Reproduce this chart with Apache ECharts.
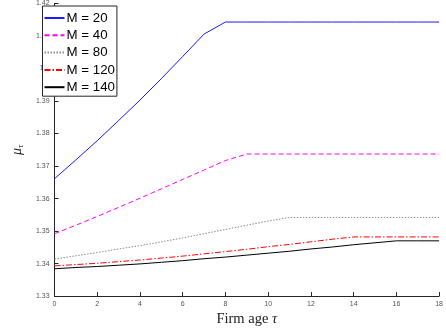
<!DOCTYPE html>
<html>
<head>
<meta charset="utf-8">
<script src="https://cdn.jsdelivr.net/npm/echarts@6/dist/echarts.min.js"></script>
<style>
  html, body { margin: 0; padding: 0; background: #fff; }
  #chart { width: 446px; height: 332px; }
</style>
</head>
<body>
<div id="chart"></div>
<script>
// Firm age (years)
const ages = [0, 1, 2, 3, 4, 5, 6, 7, 8, 9, 10, 11, 12, 13, 14, 15, 16, 17, 18];

// Markup profile mu_tau for each value of M
const muM20  = [1.3661, 1.3719, 1.3778, 1.3840, 1.3903, 1.3969, 1.4037, 1.4106, 1.4143, 1.4143, 1.4143, 1.4143, 1.4143, 1.4143, 1.4143, 1.4143, 1.4143, 1.4143, 1.4143];
const muM40  = [1.3492, 1.3518, 1.3545, 1.3573, 1.3601, 1.3630, 1.3659, 1.3688, 1.3717, 1.3737, 1.3737, 1.3737, 1.3737, 1.3737, 1.3737, 1.3737, 1.3737, 1.3737, 1.3737];
const muM80  = [1.3414, 1.3424, 1.3434, 1.3445, 1.3455, 1.3467, 1.3479, 1.3492, 1.3505, 1.3518, 1.3531, 1.3542, 1.3542, 1.3542, 1.3542, 1.3542, 1.3542, 1.3542, 1.3542];
const muM120 = [1.3393, 1.3397, 1.3401, 1.3406, 1.3411, 1.3417, 1.3423, 1.3430, 1.3437, 1.3444, 1.3452, 1.3459, 1.3467, 1.3475, 1.3482, 1.3482, 1.3482, 1.3482, 1.3482];
const muM140 = [1.3384, 1.3388, 1.3391, 1.3395, 1.3399, 1.3404, 1.3409, 1.3415, 1.3420, 1.3426, 1.3432, 1.3438, 1.3445, 1.3451, 1.3458, 1.3464, 1.3470, 1.3470, 1.3470];

const seriesNames = ['M = 20', 'M = 40', 'M = 80', 'M = 120', 'M = 140'];

const axisColor = '#262626';
const tickLabelStyle = { color: '#555', fontSize: 7, fontFamily: 'Liberation Sans, Arial, sans-serif' };

function pairs(ys) { return ys.map((y, i) => [ages[i], y]); }

function lineSeries(name, ys, color, type) {
  return {
    name: name,
    type: 'line',
    data: pairs(ys),
    symbol: 'none',
    showSymbol: false,
    silent: true,
    animation: false,
    lineStyle: { color: color, width: 1, type: type },
    itemStyle: { color: color }
  };
}

const chart = echarts.init(document.getElementById('chart'), null, { renderer: 'canvas' });
chart.setOption({
  backgroundColor: '#fff',
  animation: false,
  grid: { left: 37.5, right: 1.5, top: 3, bottom: 32 },
  legend: {
    left: 42.5,
    top: 6,
    orient: 'vertical',
    backgroundColor: '#fff',
    borderColor: axisColor,
    borderWidth: 1,
    borderRadius: 0,
    padding: [5, 2, 2, 1],
    itemWidth: 20,
    itemHeight: 14,
    itemGap: 3.3,
    itemStyle: { opacity: 0 },
    textStyle: { fontSize: 13.3, lineHeight: 14, color: '#000', fontFamily: 'Liberation Sans, Arial, sans-serif', padding: [0, 0, 0, -3] },
    data: seriesNames
  },
  xAxis: {
    type: 'value',
    min: 0,
    max: 18,
    interval: 2,
    name: '{a|Firm age }{t|τ}',
    nameLocation: 'middle',
    nameGap: 13,
    nameTextStyle: {
      rich: {
        a: { fontSize: 14.5, fontFamily: 'Liberation Serif, serif', color: '#222' },
        t: { fontSize: 14.5, fontFamily: 'Liberation Serif, serif', fontStyle: 'italic', color: '#222' }
      }
    },
    axisLine: { lineStyle: { color: axisColor, width: 1 } },
    axisTick: { inside: true, length: 4, lineStyle: { color: axisColor } },
    axisLabel: Object.assign({ margin: 4 }, tickLabelStyle),
    splitLine: { show: false }
  },
  yAxis: {
    type: 'value',
    min: 1.33,
    max: 1.42,
    interval: 0.01,
    name: '{m|μ}{s|τ}',
    nameLocation: 'middle',
    nameRotate: 90,
    nameGap: 20,
    nameTextStyle: {
      rich: {
        m: { fontSize: 14, fontFamily: 'Liberation Serif, serif', fontStyle: 'italic', color: '#222', lineHeight: 16 },
        s: { fontSize: 9, fontFamily: 'Liberation Serif, serif', fontStyle: 'italic', color: '#222', verticalAlign: 'bottom', lineHeight: 16, padding: [8, 0, 0, 0] }
      }
    },
    axisLine: { show: true, lineStyle: { color: axisColor, width: 1 } },
    axisTick: { show: true, inside: true, length: 4, lineStyle: { color: axisColor } },
    axisLabel: Object.assign({ margin: 5, formatter: v => String(+v.toFixed(2)) }, tickLabelStyle),
    splitLine: { show: false }
  },
  series: [
    lineSeries(seriesNames[0], muM20, '#1a1aff', 'solid'),
    lineSeries(seriesNames[1], muM40, '#ff00ff', [5, 3]),
    lineSeries(seriesNames[2], muM80, '#8c8c8c', [1.5, 1.5]),
    lineSeries(seriesNames[3], muM120, '#ff0000', [6, 2, 1.5, 2]),
    lineSeries(seriesNames[4], muM140, '#000000', 'solid')
  ]
});
</script>
</body>
</html>
